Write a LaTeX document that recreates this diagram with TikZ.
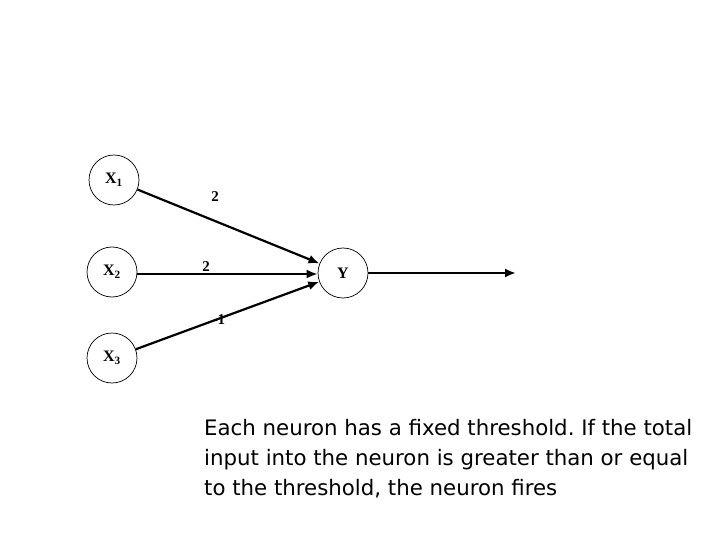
\documentclass[tikz,border=0pt]{standalone}
\usepackage{fontspec}
\setmainfont{Liberation Serif}
\newfontfamily\bodyfont{DejaVu Sans}
\usetikzlibrary{arrows.meta}
\begin{document}
\begin{tikzpicture}[x=1pt,y=-1pt,
  neuron/.style={draw, line width=0.7pt, circle, minimum size=50pt, inner sep=0pt, font=\fontsize{16}{18}\selectfont\bfseries},
  conn/.style={line width=2.2pt, -{Latex[length=11pt,width=9pt]}},
  wlabel/.style={font=\fontsize{15}{17}\selectfont\bfseries, inner sep=0pt}]
\useasboundingbox (0,0) rectangle (720,540);
\node[neuron] (x1) at (114,180) {X$_{\mathbf{1}}$};
\node[neuron] (x2) at (112,272) {X$_{\mathbf{2}}$};
\node[neuron] (x3) at (112,358) {X$_{\mathbf{3}}$};
\node[neuron] (y) at (343,273) {Y};
\coordinate (out) at (516,273);
\draw[conn] (x1) -- (y);
\draw[conn] (x2.east |- 0,274) -- (y.west |- 0,274);
\draw[conn] (x3) -- (y);
\draw[conn] (y) -- (out);
\node[wlabel] (w1) at (215,197) {2};
\node[wlabel] (w2) at (206,267) {2};
\node[wlabel] (w3) at (219,320) {-1};
\node[anchor=north west, inner sep=0pt, align=left,
  font=\bodyfont\fontsize{21.3}{30}\selectfont\frenchspacing] (txt) at (204,419)
  {Each neuron has a fixed threshold. If the total\\input into the neuron is greater than or equal\\to the threshold, the neuron fires};
\end{tikzpicture}
\end{document}
